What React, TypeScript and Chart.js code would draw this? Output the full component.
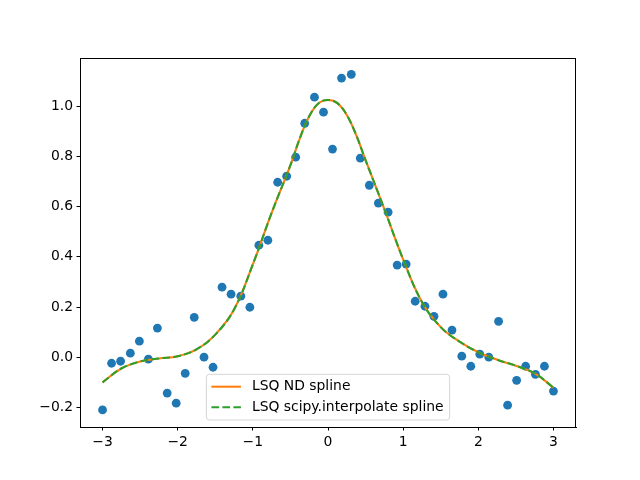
import React, { useEffect, useRef } from "react";
import { Chart, registerables } from "chart.js";

Chart.register(...registerables);

// Noisy sample points (x from -3 to 3, 50 samples)
const pointX = [
  -3.0, -2.88, -2.76, -2.63, -2.51, -2.39, -2.27, -2.14, -2.02, -1.9,
  -1.78, -1.65, -1.53, -1.41, -1.29, -1.16, -1.04, -0.92, -0.8, -0.67,
  -0.55, -0.43, -0.31, -0.18, -0.06, 0.06, 0.18, 0.31, 0.43, 0.55,
  0.67, 0.8, 0.92, 1.04, 1.16, 1.29, 1.41, 1.53, 1.65, 1.78,
  1.9, 2.02, 2.14, 2.27, 2.39, 2.51, 2.63, 2.76, 2.88, 3.0,
];
const pointY = [
  -0.21, -0.024, -0.016, 0.016, 0.064, -0.008, 0.116, -0.143, -0.183, -0.064,
  0.159, 0.0, -0.04, 0.279, 0.251, 0.243, 0.199, 0.446, 0.466, 0.697,
  0.721, 0.797, 0.932, 1.036, 0.976, 0.829, 1.112, 1.127, 0.793, 0.685,
  0.614, 0.578, 0.367, 0.371, 0.223, 0.203, 0.163, 0.251, 0.108, 0.004,
  -0.036, 0.012, 0.0, 0.143, -0.191, -0.092, -0.036, -0.068, -0.036, -0.135,
];

// Fitted spline curves (both fits coincide)
const curveX = [
  -3.0, -2.75, -2.5, -2.25, -2.0, -1.75, -1.5, -1.25, -1.0, -0.75,
  -0.5, -0.375, -0.25, -0.125, 0.0, 0.125, 0.25, 0.375, 0.5, 0.75,
  1.0, 1.25, 1.5, 1.75, 2.0, 2.25, 2.5, 2.75, 3.0,
];
const ndSplineY = [
  -0.1, -0.045, -0.017, -0.005, 0.004, 0.031, 0.09, 0.19, 0.37, 0.575,
  0.765, 0.872, 0.96, 1.012, 1.025, 1.012, 0.965, 0.885, 0.785, 0.59,
  0.39, 0.22, 0.12, 0.062, 0.02, -0.01, -0.034, -0.064, -0.121,
];
const scipySplineY = [
  -0.1, -0.045, -0.017, -0.005, 0.004, 0.031, 0.09, 0.19, 0.37, 0.575,
  0.765, 0.872, 0.96, 1.012, 1.025, 1.012, 0.965, 0.885, 0.785, 0.59,
  0.39, 0.22, 0.12, 0.062, 0.02, -0.01, -0.034, -0.064, -0.121,
];

const xTicks = [-3, -2, -1, 0, 1, 2, 3];
const yTicks = [-0.2, 0.0, 0.2, 0.4, 0.6, 0.8, 1.0];

const legendLabels = ["LSQ ND spline", "LSQ scipy.interpolate spline"];

const FONT = "DejaVu Sans";
const FS = 13.9;

const fmtMinus = (s: string) => s.replace("-", "\u2212");

const framePlugin = {
  id: "frameAndLegend",
  afterDraw(chart: any) {
    const { ctx, chartArea } = chart;
    const { left, right, top, bottom } = chartArea;
    ctx.save();
    ctx.strokeStyle = "#000";
    ctx.lineWidth = 1;
    ctx.strokeRect(left + 0.5, top + 0.5, right - left - 1, bottom - top);

    // legend
    ctx.font = `${FS}px "${FONT}"`;
    const textW = Math.max(...legendLabels.map((t) => ctx.measureText(t).width));
    const boxW = 5 + 29.5 + 11 + textW + 6;
    const boxH = 45.7;
    const cx = (left + right) / 2;
    const bx = cx - boxW / 2;
    const by = bottom - 7 - boxH;
    ctx.beginPath();
    const r = 3;
    ctx.moveTo(bx + r, by);
    ctx.lineTo(bx + boxW - r, by);
    ctx.quadraticCurveTo(bx + boxW, by, bx + boxW, by + r);
    ctx.lineTo(bx + boxW, by + boxH - r);
    ctx.quadraticCurveTo(bx + boxW, by + boxH, bx + boxW - r, by + boxH);
    ctx.lineTo(bx + r, by + boxH);
    ctx.quadraticCurveTo(bx, by + boxH, bx, by + boxH - r);
    ctx.lineTo(bx, by + r);
    ctx.quadraticCurveTo(bx, by, bx + r, by);
    ctx.closePath();
    ctx.fillStyle = "rgba(255,255,255,0.8)";
    ctx.fill();
    ctx.strokeStyle = "rgba(204,204,204,0.8)";
    ctx.lineWidth = 1;
    ctx.stroke();

    const rows = [
      { y: by + 12.4, color: "#ff7f0e", dash: [] as number[] },
      { y: by + 33, color: "#2ca02c", dash: [7.7, 3.3] },
    ];
    rows.forEach((row, i) => {
      ctx.beginPath();
      ctx.setLineDash(row.dash);
      ctx.strokeStyle = row.color;
      ctx.lineWidth = 2.08;
      ctx.moveTo(bx + 5, row.y);
      ctx.lineTo(bx + 34.5, row.y);
      ctx.stroke();
      ctx.setLineDash([]);
      ctx.fillStyle = "#000";
      ctx.textBaseline = "middle";
      ctx.textAlign = "left";
      ctx.fillText(legendLabels[i], bx + 45.5, row.y);
    });
    ctx.restore();
  },
};

export default function App() {
  const ref = useRef<HTMLCanvasElement | null>(null);
  useEffect(() => {
    if (!ref.current) return;
    const pts = pointX.map((x, i) => ({ x, y: pointY[i] }));
    const nd = curveX.map((x, i) => ({ x, y: ndSplineY[i] }));
    const sp = curveX.map((x, i) => ({ x, y: scipySplineY[i] }));
    const chart = new Chart(ref.current, {
      type: "scatter",
      data: {
        datasets: [
          {
            label: "data",
            data: pts,
            backgroundColor: "#1f77b4",
            borderColor: "#1f77b4",
            pointRadius: 4.4,
            pointBorderWidth: 0,
            showLine: false,
            order: 3,
          },
          {
            label: legendLabels[0],
            data: nd,
            borderColor: "#ff7f0e",
            backgroundColor: "#ff7f0e",
            borderWidth: 2.08,
            pointRadius: 0,
            showLine: true,
            tension: 0.4,
            order: 2,
          },
          {
            label: legendLabels[1],
            data: sp,
            borderColor: "#2ca02c",
            backgroundColor: "#2ca02c",
            borderWidth: 2.08,
            borderDash: [7.7, 3.3],
            pointRadius: 0,
            showLine: true,
            tension: 0.4,
            order: 1,
          },
        ],
      } as any,
      options: {
        animation: false,
        responsive: false,
        devicePixelRatio: 1,
        layout: { padding: { top: 58, right: 64, left: 0, bottom: 0 } },
        plugins: {
          legend: { display: false },
          tooltip: { enabled: false },
          title: { display: false },
        },
        scales: {
          x: {
            type: "linear",
            min: -3.3,
            max: 3.3,
            afterBuildTicks: (s: any) => {
              s.ticks = xTicks.map((v) => ({ value: v }));
            },
            afterFit: (s: any) => {
              s.height = 53;
            },
            grid: {
              drawOnChartArea: false,
              drawTicks: true,
              tickLength: 3.5,
              color: "#000",
              lineWidth: 1,
            },
            border: { display: true, color: "#000", width: 1 },
            ticks: {
              padding: 3.5,
              color: "#000",
              font: { family: FONT, size: FS },
              maxRotation: 0,
              autoSkip: false,
              callback: (v: any) => fmtMinus(String(Math.round(Number(v)))),
            },
          },
          y: {
            type: "linear",
            min: -0.278,
            max: 1.192,
            afterBuildTicks: (s: any) => {
              s.ticks = yTicks.map((v) => ({ value: v }));
            },
            afterFit: (s: any) => {
              s.width = 80;
            },
            grid: {
              drawOnChartArea: false,
              drawTicks: true,
              tickLength: 3.5,
              color: "#000",
              lineWidth: 1,
            },
            border: { display: true, color: "#000", width: 1 },
            ticks: {
              padding: 3.5,
              color: "#000",
              font: { family: FONT, size: FS },
              autoSkip: false,
              callback: (v: any) => fmtMinus(Number(v).toFixed(1)),
            },
          },
        },
      } as any,
      plugins: [framePlugin],
    });
    return () => chart.destroy();
  }, []);
  return (
    <div
      style={{
        position: "fixed",
        left: 0,
        top: 0,
        width: 640,
        height: 480,
        background: "#fff",
      }}
    >
      <canvas ref={ref} width={640} height={480} />
    </div>
  );
}
